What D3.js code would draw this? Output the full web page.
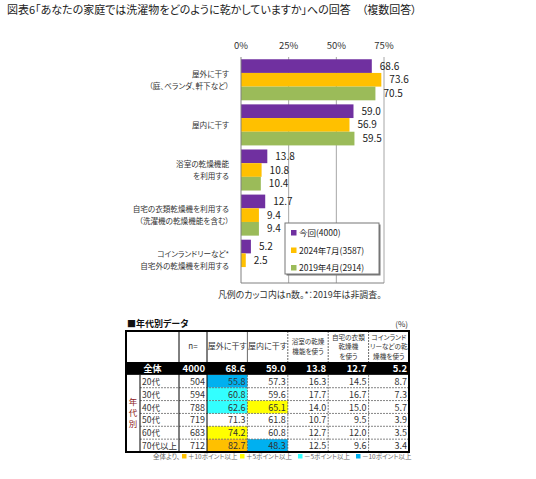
<!DOCTYPE html>
<html>
<head>
<meta charset="utf-8">
<script src="https://cdn.jsdelivr.net/npm/d3@7"></script>
<style>
  body { margin: 0; background: #fff; }
  svg { display: block; font-family: "Noto Sans CJK JP", "Noto Sans", sans-serif; font-feature-settings: "palt"; }
</style>
</head>
<body>
<svg id="chart"></svg>
<script>
// ---- chart data ----
const categories = [
    ["屋外に干す", "（庭、ベランダ、軒下など）"],
    ["屋内に干す"],
    ["浴室の乾燥機能", "を利用する"],
    ["自宅の衣類乾燥機を利用する", "（洗濯機の乾燥機能を含む）"],
    ["コインランドリーなど*", "自宅外の乾燥機を利用する"]
];
const seriesNames = ["今回(4000)", "2024年7月(3587)", "2019年4月(2914)"];
const current = [68.6, 59.0, 13.8, 12.7, 5.2];
const jul2024 = [73.6, 56.9, 10.8, 9.4, 2.5];
const apr2019 = [70.5, 59.5, 10.4, 9.4, null];
const xTicks = [0, 25, 50, 75];

// ---- table data ----
const tableHeaders = [
    ["n="], ["屋外に干す"], ["屋内に干す"],
    ["浴室の乾燥", "機能を使う"],
    ["自宅の衣類", "乾燥機", "を使う"],
    ["コインランド", "リーなどの乾", "燥機を使う"]
];
const totalLabel = "全体";
const totalN = 4000;
const totalValues = [68.6, 59.0, 13.8, 12.7, 5.2];
const ageGroups = ["20代", "30代", "40代", "50代", "60代", "70代以上"];
const ageN = [504, 594, 788, 719, 683, 712];
const ageValues = [
    [55.8, 57.3, 16.3, 14.5, 8.7],
    [60.8, 59.6, 17.7, 16.7, 7.3],
    [62.6, 65.1, 14.0, 15.0, 5.7],
    [71.3, 61.8, 10.7, 9.5, 3.9],
    [74.2, 60.8, 12.7, 12.0, 3.5],
    [82.7, 48.3, 12.5, 9.6, 3.4]
];
const diffLegend = ["＋10ポイント以上", "＋5ポイント以上", "－5ポイント以上", "－10ポイント以上"];

const W = 536, H = 479;
const colors = ["#7030A0", "#FFC000", "#9BBB59"];
const hiColors = ["#FFC000", "#FFFF00", "#33FFFF", "#00B0F0"];

const svg = d3.select("#chart").attr("width", W).attr("height", H);

svg.append("text")
    .attr("x", 7).attr("y", 14)
    .style("font-size", "11px").attr("fill", "#222")
    .text("図表6「あなたの家庭では洗濯物をどのように乾かしていますか」への回答　（複数回答）");

// ---- bar chart ----
const plot = {left: 241, right: 384, top: 57, bottom: 283};
const x = d3.scaleLinear().domain([0, 75]).range([plot.left, plot.right]);
const y = d3.scaleBand().domain(d3.range(categories.length))
    .range([plot.top, plot.bottom]).paddingInner(0.09).paddingOuter(0.05);
const ySub = d3.scaleBand().domain(d3.range(seriesNames.length)).range([0, y.bandwidth()]);

const g = svg.append("g");

g.selectAll("line.grid").data(xTicks.slice(1)).enter().append("line")
    .attr("x1", d => x(d)).attr("x2", d => x(d))
    .attr("y1", plot.top).attr("y2", plot.bottom)
    .attr("stroke", "#a6a6a6").attr("stroke-width", 1);

g.selectAll("text.tick").data(xTicks).enter().append("text")
    .attr("x", d => x(d)).attr("y", 49)
    .attr("text-anchor", "middle")
    .style("font-size", "9.5px").attr("fill", "#333")
    .text(d => d + "%");

const series = [current, jul2024, apr2019];
const bars = [];
series.forEach((s, si) => s.forEach((v, ci) => {
    if (v != null) bars.push({si, ci, v});
}));

g.selectAll("rect.bar").data(bars).enter().append("rect")
    .attr("x", x(0))
    .attr("y", d => y(d.ci) + ySub(d.si))
    .attr("width", d => x(d.v) - x(0))
    .attr("height", ySub.bandwidth())
    .attr("fill", d => colors[d.si]);

g.selectAll("text.val").data(bars).enter().append("text")
    .attr("x", d => x(d.v) + 8)
    .attr("y", d => y(d.ci) + ySub(d.si) + ySub.bandwidth() / 2 + 3.5)
    .style("font-size", "10px").attr("fill", "#222")
    .text(d => d.v.toFixed(1));

// axis lines
g.append("line").attr("x1", plot.left).attr("x2", plot.left)
    .attr("y1", plot.top).attr("y2", plot.bottom).attr("stroke", "#808080");
g.append("line").attr("x1", plot.left).attr("x2", plot.right)
    .attr("y1", plot.bottom).attr("y2", plot.bottom).attr("stroke", "#808080");

// category labels
categories.forEach((lines, i) => {
    const cy = y(i) + y.bandwidth() / 2;
    const t = g.append("text")
        .attr("text-anchor", "end")
        .style("font-size", "7.6px").attr("fill", "#333");
    lines.forEach((ln, j) => {
        t.append("tspan").attr("x", 229)
            .attr("y", cy + 3 + (j - (lines.length - 1) / 2) * 12)
            .text(ln);
    });
});

// legend
const lg = svg.append("g").attr("transform", "translate(285,223)");
lg.append("rect").attr("x", 1.5).attr("y", 1.5).attr("width", 94).attr("height", 51).attr("fill", "#777");
lg.append("rect").attr("width", 94).attr("height", 51).attr("fill", "#fff").attr("stroke", "#777");
seriesNames.forEach((name, i) => {
    lg.append("rect").attr("x", 6).attr("y", 7 + i * 17.5).attr("width", 5.5).attr("height", 5.5).attr("fill", colors[i]);
    lg.append("text").attr("x", 14).attr("y", 13 + i * 17.5)
        .style("font-size", "8.5px").attr("fill", "#222").text(name);
});

svg.append("text").attr("x", 218).attr("y", 298)
    .style("font-size", "8.9px").attr("fill", "#333")
    .text("凡例のカッコ内はn数。*：2019年は非調査。");

// ---- table ----
const T = {left: 126, groupCol: 140, labelCol: 179, nCol: 207, right: 409, top: 331, headBottom: 362, bottom: 452};
const col = d3.scaleBand().domain(d3.range(5)).range([T.nCol, T.right]);
const rowKeys = ["total"].concat(ageGroups);
const row = d3.scaleBand().domain(rowKeys).range([T.headBottom, T.bottom]);

svg.append("text").attr("x", 127).attr("y", 327)
    .style("font-size", "9px").style("font-weight", "bold").attr("fill", "#111")
    .text("■年代別データ");
svg.append("text").attr("x", 408).attr("y", 327).attr("text-anchor", "end")
    .style("font-size", "8px").attr("fill", "#333").text("(%)");

const tb = svg.append("g");

// highlighted cells
function hiIndex(v, base) {
    const d = v - base;
    if (d >= 10) return 0;
    if (d >= 5) return 1;
    if (d <= -10) return 3;
    if (d <= -5) return 2;
    return -1;
}
const cells = [];
ageValues.forEach((vals, ri) => vals.forEach((v, ci) => {
    cells.push({ri, ci, v, h: hiIndex(v, totalValues[ci])});
}));
tb.selectAll("rect.hi").data(cells.filter(d => d.h >= 0)).enter().append("rect")
    .attr("x", d => col(d.ci)).attr("y", d => row(ageGroups[d.ri]))
    .attr("width", col.bandwidth()).attr("height", row.bandwidth())
    .attr("fill", d => hiColors[d.h]);

// total row
tb.append("rect").attr("x", T.left).attr("y", row("total"))
    .attr("width", T.right - T.left).attr("height", row.bandwidth()).attr("fill", "#000");
const totY = row("total") + row.bandwidth() / 2 + 3.5;
tb.append("text").attr("x", (T.left + T.labelCol) / 2).attr("y", totY).attr("text-anchor", "middle")
    .style("font-size", "9px").style("font-weight", "bold").attr("fill", "#fff").text(totalLabel);
tb.append("text").attr("x", T.nCol - 2).attr("y", totY).attr("text-anchor", "end")
    .style("font-size", "9.5px").style("font-weight", "bold").attr("fill", "#fff").text(totalN);
tb.selectAll("text.tot").data(totalValues).enter().append("text")
    .attr("x", (d, i) => col(i) + col.bandwidth() - 2).attr("y", totY).attr("text-anchor", "end")
    .style("font-size", "9.5px").style("font-weight", "bold").attr("fill", "#fff")
    .text(d => d.toFixed(1));

// dashed inner lines
const dash = "2,1";
ageGroups.slice(1).forEach(a => {
    tb.append("line").attr("x1", T.groupCol).attr("x2", T.right)
        .attr("y1", row(a)).attr("y2", row(a))
        .attr("stroke", "#666").attr("stroke-width", 0.8).attr("stroke-dasharray", dash);
});
d3.range(1, 5).forEach(i => {
    const solidHead = i === 1;
    tb.append("line").attr("x1", col(i)).attr("x2", col(i))
        .attr("y1", T.top).attr("y2", T.headBottom)
        .attr("stroke", "#444").attr("stroke-width", 0.8)
        .attr("stroke-dasharray", solidHead ? null : dash);
    tb.append("line").attr("x1", col(i)).attr("x2", col(i))
        .attr("y1", row(ageGroups[0])).attr("y2", T.bottom)
        .attr("stroke", "#555").attr("stroke-width", 0.8).attr("stroke-dasharray", dash);
});
// solid lines
[T.labelCol, T.nCol].forEach(xx => {
    tb.append("line").attr("x1", xx).attr("x2", xx).attr("y1", T.top).attr("y2", T.bottom)
        .attr("stroke", "#000").attr("stroke-width", 1);
});
tb.append("line").attr("x1", T.groupCol).attr("x2", T.groupCol)
    .attr("y1", row(ageGroups[0])).attr("y2", T.bottom).attr("stroke", "#000").attr("stroke-width", 1);
tb.append("rect").attr("x", T.left).attr("y", T.top)
    .attr("width", T.right - T.left).attr("height", T.bottom - T.top)
    .attr("fill", "none").attr("stroke", "#000").attr("stroke-width", 2);

// header text
tableHeaders.forEach((lines, i) => {
    const x0 = i === 0 ? T.labelCol : col(i - 1);
    const x1 = i === 0 ? T.nCol : col(i - 1) + col.bandwidth();
    const cy = (T.top + T.headBottom) / 2;
    const fs = lines.length > 1 ? 6.6 : 8;
    const t = tb.append("text").attr("text-anchor", "middle")
        .style("font-size", fs + "px").attr("fill", "#333");
    lines.forEach((ln, j) => {
        t.append("tspan").attr("x", (x0 + x1) / 2)
            .attr("y", cy + 2.5 + (j - (lines.length - 1) / 2) * 9.5).text(ln);
    });
});

// group label (vertical)
const gl = tb.append("text").attr("text-anchor", "middle")
    .style("font-size", "8.5px").attr("fill", "#8B1A1A");
["年", "代", "別"].forEach((c, j) => {
    gl.append("tspan").attr("x", (T.left + T.groupCol) / 2)
        .attr("y", (row(ageGroups[0]) + T.bottom) / 2 + 3 + (j - 1) * 11).text(c);
});

// body rows
ageGroups.forEach((a, ri) => {
    const yy = row(a) + row.bandwidth() / 2 + 3.5;
    tb.append("text").attr("x", T.groupCol + 2).attr("y", yy)
        .style("font-size", "8.5px").attr("fill", "#333").text(a);
    tb.append("text").attr("x", T.nCol - 2).attr("y", yy).attr("text-anchor", "end")
        .style("font-size", "9px").attr("fill", "#333").text(ageN[ri]);
});
tb.selectAll("text.cell").data(cells).enter().append("text")
    .attr("x", d => col(d.ci) + col.bandwidth() - 2)
    .attr("y", d => row(ageGroups[d.ri]) + row.bandwidth() / 2 + 3.5)
    .attr("text-anchor", "end")
    .style("font-size", "9px").attr("fill", "#333")
    .text(d => d.v.toFixed(1));

// table legend
const tl = svg.append("g").attr("transform", "translate(153,459)");
tl.append("text").attr("x", 0).attr("y", 0)
    .style("font-size", "6.5px").attr("fill", "#666").text("全体より、");
diffLegend.forEach((txt, i) => {
    const lx = 29 + i * 58;
    tl.append("rect").attr("x", lx).attr("y", -5).attr("width", 4.5).attr("height", 4.5).attr("fill", hiColors[i]);
    tl.append("text").attr("x", lx + 6).attr("y", 0)
        .style("font-size", "6.5px").attr("fill", "#666").text(txt);
});
</script>
</body>
</html>
